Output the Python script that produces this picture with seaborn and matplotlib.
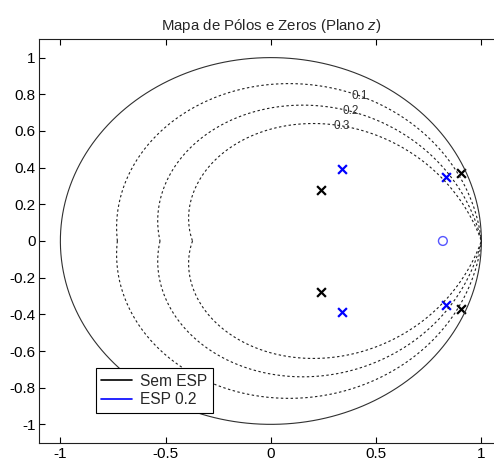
import matplotlib
matplotlib.use("Agg")
import matplotlib.pyplot as plt
from matplotlib.lines import Line2D
import numpy as np
import pandas as pd
import seaborn as sns

# damping ratios of the zgrid curves
zeta_values = [0.1, 0.2, 0.3]
zeta_labels = ["0.1", "0.2", "0.3"]

# poles without stabilizer (Sem ESP)
sem_re = [0.24, 0.24, 0.905, 0.905]
sem_im = [0.28, -0.28, 0.37, -0.37]

# poles / zero with stabilizer (ESP 0.2)
esp_re = [0.34, 0.34, 0.83, 0.83]
esp_im = [0.39, -0.39, 0.35, -0.35]
esp_zero_re = [0.817]
esp_zero_im = [0.0]

sns.set_style("ticks")
plt.rcParams["font.family"] = ["Liberation Sans", "DejaVu Sans"]
plt.rcParams["mathtext.fontset"] = "custom"
plt.rcParams["mathtext.it"] = "Liberation Sans:italic"
plt.rcParams["mathtext.rm"] = "Liberation Sans"

fig = plt.figure(figsize=(4.94, 4.62), dpi=100)
ax = fig.add_axes([0.0796, 0.0418, 0.9375, 0.8732])

# unit circle
t = np.linspace(0, 2 * np.pi, 400)
ax.plot(np.cos(t), np.sin(t), color="#303030", linewidth=0.8)

# constant damping curves
th = np.linspace(0, np.pi, 300)
for zeta, lab in zip(zeta_values, zeta_labels):
    r = np.exp(-zeta * th / np.sqrt(1 - zeta ** 2))
    curve = pd.DataFrame({"x": np.concatenate([(r * np.cos(th))[::-1], r * np.cos(th)]),
                          "y": np.concatenate([-(r * np.sin(th))[::-1], r * np.sin(th)])})
    ax.plot(curve["x"], curve["y"], color="#202020", linewidth=0.8, linestyle=(0, (2.2, 2.2)))
    tl = 1.08
    rl = np.exp(-zeta * tl / np.sqrt(1 - zeta ** 2))
    ax.text(rl * np.cos(tl), rl * np.sin(tl), lab, fontsize=8.5, color="#303030",
            ha="center", va="center")

sem = pd.DataFrame({"re": sem_re, "im": sem_im})
esp = pd.DataFrame({"re": esp_re, "im": esp_im})
zer = pd.DataFrame({"re": esp_zero_re, "im": esp_zero_im})
sns.scatterplot(data=sem, x="re", y="im", marker="x", color="black", s=40, linewidth=1.6, ax=ax)
sns.scatterplot(data=esp, x="re", y="im", marker="x", color="#0000ff", s=40, linewidth=1.6, ax=ax)
sns.scatterplot(data=zer, x="re", y="im", marker="o", facecolor="none", edgecolor="#5555ff",
                s=40, linewidth=1.0, ax=ax)

ax.set_xlim(-1.1, 1.1)
ax.set_ylim(-1.1, 1.1)
ax.set_xticks([-1, -0.5, 0, 0.5, 1])
ax.set_xticklabels(["-1", "-0.5", "0", "0.5", "1"])
ax.set_yticks([-1, -0.8, -0.6, -0.4, -0.2, 0, 0.2, 0.4, 0.6, 0.8, 1])
ax.set_yticklabels(["-1", "-0.8", "-0.6", "-0.4", "-0.2", "0", "0.2", "0.4", "0.6", "0.8", "1"])
ax.tick_params(direction="in", length=4, width=0.8, top=True, right=True, labelsize=11,
               colors="black")
ax.tick_params(axis="y", pad=2.5)
ax.tick_params(axis="x", pad=3)
for s in ax.spines.values():
    s.set_color("#202020")
    s.set_linewidth(0.8)
ax.set_xlabel("")
ax.set_ylabel("")
ax.set_title("Mapa de Pólos e Zeros (Plano $z$)", fontsize=10.8, pad=7)

handles = [Line2D([0], [0], color="black", linewidth=1.2),
           Line2D([0], [0], color="#0000ff", linewidth=1.2)]
leg = ax.legend(handles, ["Sem ESP", "ESP 0.2"], loc="lower left", bbox_to_anchor=(0.122, 0.074),
                borderaxespad=0, fancybox=False, framealpha=1, edgecolor="black", fontsize=11.2,
                handlelength=2.0, borderpad=0.35, labelspacing=0.25, handletextpad=0.5)
leg.get_frame().set_linewidth(0.8)

fig.savefig("out.png", dpi=100)
